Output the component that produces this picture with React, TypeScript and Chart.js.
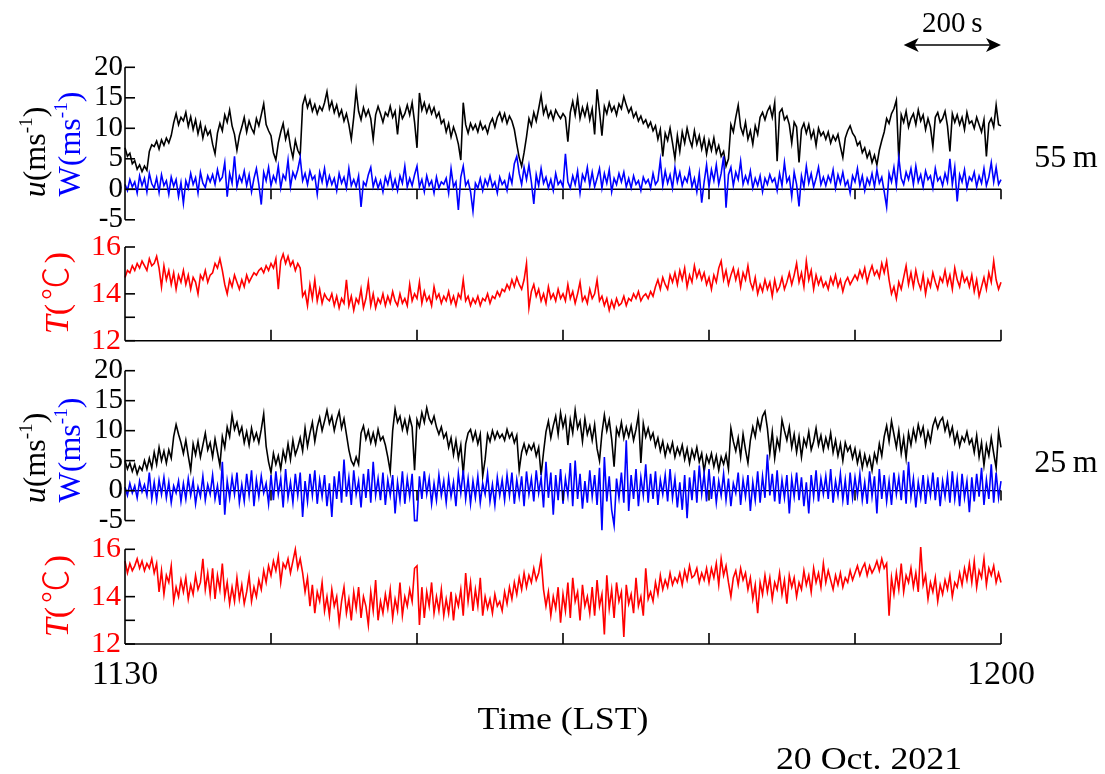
import React, { useEffect, useRef } from "react";
import { Chart, registerables } from "chart.js";

Chart.register(...registerables);

const SERIF = "'Liberation Serif', 'Times New Roman', Times, serif";

// one sample every 5 s, 11:30:00 to 12:00:00 LST
const SAMPLE_SECONDS = 5;

const timeTicks = [0, 300, 600, 900, 1200, 1500, 1800];
const timeTickLabels: Record<number, string> = { 0: "1130", 1800: "1200" };
const windTicks = [-5, 0, 5, 10, 15, 20];
const tempTicks = [12, 13, 14, 16];
const tempTickLabels = [12, 14, 16];
const scaleBarSeconds = [1600, 1800];

// 55 m level
const u55 = [
  6.8, 5.4, 5.9, 4.2, 4.7, 3.3, 4.0, 2.9, 3.8, 3.1, 6.2, 7.3,
  7.0, 7.9, 6.6, 8.1, 7.2, 8.4, 7.6, 8.8, 10.9, 12.4, 10.6, 11.8,
  11.2, 12.6, 10.3, 11.9, 9.8, 11.4, 9.1, 10.8, 8.4, 10.2, 8.9, 9.6,
  7.4, 5.8, 9.2, 10.8, 9.6, 12.2, 11.0, 13.0, 10.4, 9.0, 6.4, 8.8,
  10.2, 11.8, 9.4, 11.2, 10.0, 9.2, 11.6, 10.4, 12.2, 14.0, 10.6, 9.6,
  8.8, 6.0, 4.8, 7.6, 9.4, 10.8, 8.2, 9.6, 7.0, 5.2, 8.0, 6.4,
  5.6, 13.8, 15.2, 13.4, 14.6, 12.8, 13.9, 12.4, 13.6, 12.9, 14.2, 16.0,
  13.2, 14.4, 12.6, 13.8, 12.0, 13.0, 11.2, 12.4, 10.6, 8.2, 11.8, 16.2,
  12.8, 11.4, 13.4, 12.0, 13.0, 11.6, 8.2, 12.2, 13.6, 12.4, 11.0, 12.6,
  12.0, 13.6, 11.8, 12.8, 9.0, 13.2, 11.6, 12.4, 13.8, 12.2, 14.2, 11.0,
  6.8, 15.8, 13.0, 14.2, 12.6, 13.8, 12.4, 13.4, 11.8, 12.6, 10.8, 11.4,
  9.4, 10.8, 8.6, 10.2, 9.0, 7.4, 4.8, 14.2, 10.6, 9.2, 10.8, 9.8,
  10.6, 9.4, 11.0, 9.8, 10.4, 9.2, 10.8, 11.6, 10.2, 11.8, 12.6, 11.2,
  12.4, 10.8, 12.0, 11.2, 9.8, 7.4, 5.2, 3.8, 6.0, 8.6, 11.6, 10.4,
  12.6, 11.2, 13.2, 15.4, 12.4, 13.6, 11.8, 12.8, 11.4, 13.0, 12.2, 11.6,
  12.4, 11.8, 7.8, 12.6, 14.4, 12.2, 15.0, 11.6, 13.4, 12.0, 13.8, 11.4,
  13.2, 9.0, 16.4, 12.8, 8.8, 13.6, 12.4, 14.2, 12.8, 13.6, 12.2, 14.0,
  13.2, 15.2, 13.8, 12.6, 13.4, 11.8, 12.6, 11.2, 12.0, 10.8, 11.4, 10.2,
  11.0, 9.6, 10.4, 8.2, 9.8, 5.4, 9.2, 8.0, 10.0, 7.6, 5.0, 8.8,
  6.2, 9.4, 7.6, 10.0, 8.2, 7.0, 9.6, 7.4, 8.8, 6.6, 8.4, 5.8,
  8.0, 6.4, 8.4, 6.0, 7.2, 5.4, 6.2, 3.8, 5.0, 10.6, 9.4, 11.8,
  13.8, 10.2, 9.0, 11.0, 8.2, 9.6, 7.4, 10.4, 9.0, 11.8, 12.6, 11.4,
  12.8, 13.6, 11.8, 14.2, 4.6, 12.6, 13.2, 11.4, 12.0, 10.6, 7.6, 11.0,
  10.2, 4.4, 9.8, 10.8, 9.2, 10.6, 8.4, 9.6, 7.2, 10.0, 8.8, 9.4,
  8.2, 9.4, 7.6, 8.8, 8.0, 9.0, 7.0, 5.2, 8.4, 9.6, 10.4, 9.2,
  8.6, 7.2, 7.8, 6.0, 6.8, 5.2, 6.2, 4.4, 5.6, 4.0, 6.4, 8.0,
  9.4, 11.6, 10.8, 12.4, 13.2, 14.6, 4.8, 12.2, 11.0, 12.8, 10.2, 11.6,
  12.4, 10.6, 13.0, 11.2, 12.2, 9.8, 11.6, 10.2, 7.0, 11.8, 12.6, 11.0,
  11.6, 12.8, 10.4, 6.2, 12.4, 11.0, 12.2, 10.6, 11.8, 9.8, 12.6, 10.8,
  11.2, 10.0, 11.8, 10.6, 9.4, 11.4, 5.4, 10.8, 11.6, 10.2, 13.8, 10.6,
  10.4,
];

const w55 = [
  0.8, -0.2, 1.6, 0.4, 1.2, -0.6, 2.2, 0.6, 1.8, -0.4, 2.6, 0.9,
  0.2, 1.9, -0.5, 2.4, 0.6, 1.4, -0.8, 2.0, 0.5, 1.6, -1.2, 1.1,
  -2.3, 1.4, 0.2, 2.6, 0.8, 1.9, -0.6, 2.8, 1.0, 0.3, 2.2, 1.2,
  2.4, 0.8, 3.2, 1.4, 2.0, 4.4, -1.2, 2.6, 1.0, 5.4, 0.4, 2.2,
  1.2, 3.0, 0.6, 2.4, -0.4, 1.8, 3.4, 0.8, -2.5, 2.8, 1.4, 3.6,
  0.6, 2.2, 1.2, 3.8, 0.2, 2.4, 1.6, 4.8, 0.4, 2.8, 1.8, 3.2,
  5.2, 1.4, 2.6, 0.8, 3.0, 1.6, 2.2, -0.8, 2.8, 1.2, 3.4, 0.6,
  2.2, 0.8, 1.8, -0.2, 2.6, 1.0, 2.0, 0.2, 3.4, 0.6, 1.6, 0.4,
  2.2, -2.9, 1.2, 0.6, 2.4, 3.6, 0.4, 1.8, 0.2, 1.4, -0.4, 2.0,
  0.8, 2.6, 0.2, 1.6, -0.2, 2.2, 1.0, 3.8, 0.4, 1.8, 0.6, 2.4,
  3.8, 0.4, 1.6, -0.4, 2.2, 0.6, 1.4, -0.6, 2.0, 0.2, 1.2, 0.8,
  1.8, -0.6, 3.4, 0.4, 1.2, -3.4, 2.0, 3.8, 0.6, 1.4, -0.4, -3.6,
  1.0, 0.2, 1.8, -0.2, 1.6, 0.6, 2.2, 0.4, 1.2, -0.6, 2.0, 0.8,
  1.4, -0.2, 2.4, 1.0, 4.2, 5.4, 2.6, 0.8, 3.6, 1.6, 4.0, 1.2,
  -2.4, 2.4, 0.6, 3.4, 1.0, 2.0, 0.2, 1.6, -0.2, 2.6, 0.8, 1.4,
  0.4, 5.8, 1.2, 0.2, 2.2, 0.8, 3.0, -0.6, 2.4, 1.4, 3.6, 0.6,
  2.8, 0.4, 1.8, 3.4, 0.2, 2.6, 1.0, 3.2, -0.4, 1.8, 0.8, 2.6,
  1.2, 2.8, 0.4, 1.8, 0.2, 2.2, 0.8, 1.4, -0.2, 2.0, 1.0, 1.6,
  0.2, 2.6, 0.8, 1.4, 4.8, 0.6, 3.0, 1.0, 2.4, 0.2, 3.6, 1.2,
  2.8, 0.6, 2.0, 1.2, 3.2, 0.4, 1.8, -0.4, 2.6, -2.2, 1.2, 4.0,
  0.4, 3.2, 1.4, 4.0, 0.8, 2.6, 5.4, -3.0, 2.4, 3.6, 0.6, 2.8,
  1.6, 4.6, 0.8, 2.2, 1.0, 3.0, 0.2, 1.8, 0.6, 2.2, -0.4, 1.8,
  0.8, 2.4, 1.2, 1.8, -0.2, 2.6, 0.6, 4.4, 1.2, 2.0, -1.2, 2.8,
  0.8, -2.8, 2.2, 0.4, 3.8, 1.0, 2.6, 0.4, 1.8, 3.6, 0.8, 2.0,
  0.6, 2.2, 1.2, 3.2, 0.2, 2.4, 1.0, 2.8, 0.6, 1.4, -0.6, 2.2,
  1.2, 3.4, 0.6, 2.2, -0.2, 1.8, 0.8, 2.6, 0.4, 3.2, 1.0, 2.0,
  -0.4, -2.9, 2.6, 1.2, 3.6, 0.6, 5.2, 1.8, 0.8, 2.8, 1.6, 3.4,
  0.8, 3.8, 1.2, 2.4, 0.4, 3.0, 1.6, 2.2, 0.2, 3.4, 1.4, 2.0,
  0.6, 2.6, 1.2, 5.0, 0.8, 3.6, -2.0, 2.4, 1.2, 3.2, 0.2, 2.0,
  1.4, 2.8, 0.4, 2.2, 1.0, 3.4, 0.6, 2.0, 4.4, 1.2, 3.6, 0.8,
  1.6,
];

const t55 = [
  14.7, 15.0, 14.9, 15.2, 15.0, 15.3, 15.1, 15.4, 15.2, 15.0, 15.5, 15.2,
  15.3, 15.6, 15.1, 14.3, 15.2, 14.6, 15.0, 14.4, 14.9, 14.2, 14.8, 14.5,
  15.0, 14.4, 14.8, 14.2, 14.7, 14.5, 14.0, 14.8, 14.6, 15.0, 14.5, 14.8,
  14.9, 15.3, 15.1, 15.5, 15.0, 14.4, 14.0, 14.6, 14.3, 14.8, 14.5, 14.2,
  14.6, 14.3, 14.8, 14.5, 14.7, 14.9, 14.8, 15.0, 15.1, 14.9, 15.2, 15.0,
  15.3, 15.1, 15.5, 14.2, 15.4, 15.7, 15.3, 15.6, 15.2, 15.4, 15.0, 15.3,
  15.1, 13.9, 14.1, 13.5, 14.4, 13.8, 14.6, 13.7, 14.2, 13.6, 14.0, 13.8,
  13.7, 14.0, 13.5, 13.9, 13.4, 13.8, 13.6, 14.6, 13.5, 13.9, 13.3, 13.8,
  13.6, 14.2, 13.4, 13.8, 14.5, 13.5, 14.0, 13.4, 13.8, 13.6, 14.0, 13.5,
  13.9, 13.6, 14.1, 13.7, 13.5, 14.0, 13.6, 13.8, 13.5, 14.4, 13.7, 14.0,
  13.8, 14.5, 13.6, 14.1, 13.7, 13.9, 13.5, 14.3, 13.8, 14.0, 13.6, 13.9,
  13.7, 14.1, 13.6, 13.9, 13.5, 14.0, 13.8, 14.6, 13.7, 13.9, 13.5, 13.8,
  13.6, 13.9, 13.5, 13.8, 13.7, 14.0, 13.6, 13.9, 13.8, 14.1, 13.9, 14.2,
  14.1, 14.4, 14.2, 14.6, 14.3, 14.7, 14.4, 14.2, 14.6, 15.3, 13.4, 14.1,
  14.4, 13.9, 14.2, 13.7, 14.0, 13.6, 14.3, 13.8, 14.0, 13.7, 14.2, 13.8,
  14.0, 13.7, 14.4, 13.8, 14.1, 13.6, 14.0, 14.5, 13.7, 13.9, 13.6, 14.2,
  13.8, 14.0, 14.6, 13.7, 13.9, 13.5, 13.8, 13.3, 13.7, 13.4, 13.8, 13.5,
  13.6, 13.9, 13.5, 13.8, 13.7, 14.0, 13.8, 14.1, 13.7, 13.9, 14.0, 13.8,
  14.1, 13.9, 14.3, 14.6, 14.2, 14.7, 14.4, 14.2, 14.8, 14.5, 14.9, 14.4,
  15.0, 14.6, 15.1, 14.3, 14.8, 14.5, 15.2, 14.7, 15.0, 14.6, 14.9, 14.4,
  14.7, 14.2, 14.8, 14.5, 15.1, 15.4, 14.6, 15.0, 14.4, 14.8, 15.1, 14.6,
  15.0, 14.3, 14.9, 14.6, 15.2, 14.5, 14.2, 14.7, 14.0, 14.4, 14.1, 14.6,
  14.2, 14.5, 13.9, 14.6, 14.1, 14.3, 14.7, 14.2, 14.5, 14.9, 14.4, 14.8,
  15.3, 14.5, 14.9, 14.3, 15.4, 14.6, 15.0, 14.2, 14.8, 14.4, 14.7, 14.3,
  14.5, 14.2, 14.7, 14.4, 14.8, 14.3, 14.6, 14.1, 14.5, 14.7, 14.4, 14.6,
  14.8, 14.6, 15.0, 14.7, 15.1, 14.5, 14.9, 15.2, 14.8, 15.0, 14.7, 15.3,
  14.9, 15.4, 14.6, 14.0, 14.3, 13.8, 14.5, 14.2, 14.7, 15.2, 14.4, 14.9,
  14.3, 15.0, 14.5, 14.2, 14.8, 14.0, 14.6, 14.3, 14.9, 14.5, 14.2, 14.7,
  14.5, 15.0, 14.4, 14.8, 14.2, 15.1, 14.6, 14.3, 14.9, 14.5, 14.7, 14.3,
  14.8, 14.1, 14.6, 13.9, 14.3, 14.7, 14.2, 14.9, 14.5, 15.4, 14.6, 14.2,
  14.5,
];

// 25 m level
const u25 = [
  5.0, 3.6, 4.6, 3.2, 4.4, 2.8, 4.0, 3.4, 5.0, 3.6, 5.4, 3.8,
  6.4, 4.4, 7.2, 5.0, 6.6, 4.6, 6.8, 5.4, 9.0, 11.0, 9.4, 8.0,
  6.2, 8.4, 5.8, 3.4, 7.8, 6.0, 8.2, 5.6, 7.6, 9.6, 6.8, 8.0,
  5.6, 8.6, 6.4, 4.2, 9.0, 7.2, 10.6, 9.0, 12.6, 10.2, 11.4, 9.4,
  10.6, 8.0, 9.8, 7.6, 10.4, 8.4, 9.6, 8.0, 10.2, 12.8, 7.4, 4.8,
  3.0, 6.2, 4.4, 5.8, 3.6, 6.6, 5.0, 7.8, 5.2, 8.4, 6.0, 7.2,
  8.8, 6.6, 10.4, 7.4, 9.6, 11.4, 8.2, 10.6, 12.2, 10.0, 11.6, 13.4,
  11.2, 12.4, 10.0, 11.8, 13.2, 10.4, 12.0, 9.4, 6.8, 5.0, 4.2, 5.6,
  4.4, 9.6, 10.8, 8.6, 10.0, 8.0, 9.6, 7.8, 10.2, 8.4, 9.0, 7.6,
  5.6, 3.2, 10.0, 13.6, 11.4, 12.4, 10.2, 11.8, 9.8, 12.2, 10.6, 3.4,
  11.8, 10.6, 13.0, 11.4, 13.8, 12.0, 11.2, 12.4, 10.6, 9.4, 10.6, 8.8,
  9.6, 7.2, 8.8, 6.0, 8.4, 5.4, 7.6, 2.8, 7.8, 9.6, 10.2, 8.4,
  9.8, 7.8, 9.4, 2.4, 5.2, 9.4, 8.2, 10.0, 8.6, 9.8, 8.8, 9.4,
  8.4, 10.2, 8.8, 9.6, 8.0, 9.2, 3.4, 6.4, 7.8, 6.2, 7.6, 6.8,
  7.8, 5.8, 7.2, 2.6, 6.4, 9.8, 11.6, 8.8, 10.8, 12.4, 9.4, 13.0,
  10.6, 12.2, 7.6, 11.8, 9.6, 13.4, 10.4, 11.6, 8.2, 12.0, 9.4, 10.8,
  8.4, 11.0, 7.0, 5.0, 9.6, 12.6, 10.0, 11.8, 8.6, 4.0, 10.4, 9.2,
  11.4, 8.8, 10.6, 9.0, 10.8, 8.4, 10.2, 12.6, 4.6, 11.2, 9.0, 10.4,
  8.6, 9.6, 7.4, 8.8, 6.6, 8.2, 5.8, 7.6, 6.4, 8.0, 5.6, 7.2,
  6.0, 7.6, 5.2, 7.0, 4.6, 6.8, 5.4, 7.2, 4.8, 6.2, 3.2, 5.8,
  4.6, 6.2, 4.0, 5.8, 3.4, 5.6, 4.4, 6.0, 3.6, 10.4, 8.2, 6.6,
  8.8, 5.6, 9.4, 6.8, 4.6, 8.4, 10.6, 9.0, 11.8, 10.2, 12.4, 13.2,
  10.4, 6.2, 9.8, 5.4, 8.6, 7.0, 11.8, 10.0, 8.4, 10.6, 7.2, 9.4,
  6.4, 9.0, 5.6, 8.6, 7.4, 9.8, 6.8, 8.2, 10.4, 7.6, 9.2, 6.8,
  8.8, 7.2, 9.6, 6.4, 8.4, 5.8, 7.8, 5.0, 8.0, 6.6, 7.4, 5.4,
  7.0, 4.6, 6.4, 3.8, 6.0, 4.2, 5.6, 3.4, 6.2, 4.8, 7.8, 5.8,
  9.0, 10.8, 8.2, 11.6, 9.4, 7.2, 10.0, 6.2, 8.8, 5.4, 9.6, 7.6,
  10.2, 8.4, 11.0, 9.2, 10.6, 7.6, 9.8, 8.2, 10.8, 12.0, 10.4, 11.6,
  12.2, 10.0, 11.4, 9.2, 10.6, 8.0, 9.6, 7.4, 9.0, 8.2, 9.8, 7.8,
  8.6, 6.4, 9.2, 5.6, 8.0, 4.2, 7.6, 5.8, 8.8, 6.2, 3.8, 9.8,
  7.2,
];

const w25 = [
  0.6, -0.8, 1.2, -0.4, 0.8, -1.2, 1.6, -0.2, 1.0, -0.8, 3.0, -1.4,
  1.4, -1.6, 1.8, -0.6, 2.2, -1.2, 1.4, -2.0, 0.8, -0.4, 1.6, -1.8,
  1.2, -1.4, 2.0, -0.8, 1.6, -2.2, 0.6, -1.0, 2.4, -1.6, 1.0, -0.6,
  2.6, -1.4, 0.8, -2.4, 4.8, -4.0, 1.6, -1.2, 2.2, -0.6, 3.0, -2.0,
  1.0, -1.8, 2.8, -0.8, 3.4, -2.6, 1.8, -1.0, 2.4, -0.4, 1.2, -2.2,
  2.6, -1.6, 3.2, -0.6, 2.0, -2.8, 3.6, -1.2, 1.4, -2.0, 2.8, -0.8,
  3.0, -4.4, 1.6, -1.8, 2.8, -0.8, 3.4, -2.2, 1.8, -1.0, 2.6, -2.6,
  1.2, -4.4, 2.4, -1.4, 3.2, -2.0, 5.2, -1.0, 2.2, -2.4, 3.4, -0.6,
  1.6, -2.8, 2.8, -1.2, 3.6, -2.0, 4.8, -0.8, 2.0, -1.6, 3.0, -2.4,
  1.8, -0.8, 2.6, -3.8, 1.4, -1.6, 3.2, -2.2, 2.0, -1.0, 2.8, -5.0,
  -5.0, 2.4, -1.4, 3.2, -0.6, 2.0, -2.2, 1.2, -1.6, 2.6, -0.8, 1.6,
  -2.0, 2.2, -1.0, 1.4, -2.6, 2.8, -0.4, 3.4, -1.4, 2.0, -2.2, 1.6,
  -1.2, 2.4, -2.0, 1.2, -0.6, 2.8, -1.8, 1.0, -2.4, 2.2, -0.8, 1.8,
  -1.6, 2.6, -0.8, 3.0, -2.2, 1.8, -1.0, 2.4, -2.6, 3.2, -0.6, 2.0,
  -1.8, 3.4, -0.4, 2.2, -2.8, 4.8, -1.2, 3.0, -4.0, 2.6, -1.6, 3.6,
  -2.2, 2.0, -0.8, 4.6, -2.6, 5.0, -1.4, 2.8, -3.0, 1.6, -2.0, 3.4,
  -1.0, 2.6, -2.4, 3.8, -6.6, 5.6, -1.8, 2.4, -3.2, -5.8, 2.0, -1.2,
  3.0, -2.0, 8.4, -3.4, 2.6, -1.4, 3.6, -2.6, 2.2, -0.8, 4.4, -2.0,
  2.8, -1.4, 3.2, -2.4, 1.8, -0.6, 2.6, -1.8, 3.6, -1.2, 2.0, -2.8,
  1.4, -3.2, 2.6, -4.6, 2.2, -1.6, 3.4, -2.0, 4.2, -0.6, 2.8, -1.8,
  3.6, -1.4, 2.4, -2.0, 1.6, -0.8, 2.8, -1.6, 2.0, -2.6, 1.2, -0.4,
  3.0, -2.4, 1.8, -1.0, 2.6, -3.4, 1.4, -1.6, 3.2, -2.0, 2.4, -1.2,
  6.0, -0.8, 2.8, -1.8, 3.4, -2.2, 1.8, -1.2, 2.6, -3.8, 2.0, -1.0,
  3.0, -1.6, 2.2, -2.6, 1.4, -3.8, 2.6, -1.0, 3.4, -1.8, 2.0, -0.6,
  2.4, -1.4, 3.6, -2.0, 1.6, -0.8, 2.8, -1.6, 1.8, -2.4, 3.0, -1.2,
  2.2, -0.8, 2.8, -1.6, 1.4, -2.2, 3.2, -1.0, 2.4, -3.8, 3.6, -1.4,
  2.6, -1.8, 1.6, -2.4, 3.0, -0.6, 2.2, -1.6, 3.4, -2.2, 4.8, -1.0,
  2.0, -2.8, 1.4, -1.2, 2.6, -2.2, 1.8, -0.8, 3.0, -1.6, 2.2, -2.6,
  1.6, -1.0, 2.4, -2.0, 3.2, -1.4, 2.0, -2.6, 2.8, -1.2, 1.6, -3.6,
  2.2, -1.8, 2.8, -1.0, 3.8, -2.4, 1.8, -1.4, 4.4, -2.0, 3.0, -1.2,
  1.6,
];

const t25 = [
  15.5, 15.0, 15.4, 15.1, 15.3, 15.6, 15.2, 15.5, 15.1, 15.4, 15.2, 15.6,
  15.0, 15.4, 14.2, 15.1, 14.1, 14.9, 14.6, 15.3, 13.8, 14.4, 14.0, 14.7,
  14.2, 14.8, 13.9, 14.5, 14.1, 14.9, 14.3, 14.6, 15.6, 14.3, 15.0, 14.1,
  15.2, 13.9, 14.9, 14.3, 15.4, 14.0, 14.6, 13.7, 14.4, 13.8, 14.8, 13.9,
  14.5, 13.7, 14.2, 14.9, 13.8, 14.4, 14.0, 14.7, 14.3, 15.1, 14.6, 15.3,
  14.9, 15.5, 15.1, 15.7, 14.6, 15.4, 15.2, 15.6, 15.0, 15.5, 16.0, 15.2,
  15.6, 15.0, 14.2, 14.8, 13.6, 14.5, 13.3, 14.2, 13.8, 14.6, 13.4, 14.0,
  13.2, 14.3, 13.6, 14.0, 12.9, 13.8, 14.4, 13.3, 13.9, 13.0, 14.2, 13.5,
  14.4, 13.1, 14.0, 13.6, 12.8, 14.2, 13.4, 14.7, 13.0, 13.8, 13.3, 14.1,
  13.5, 14.3, 13.1, 13.9, 13.4, 14.6, 13.2, 14.0, 13.6, 14.3, 13.8, 15.2,
  15.3, 12.8, 14.4, 13.1, 14.2, 13.6, 14.6, 13.3, 14.0, 13.4, 14.3, 13.2,
  13.9, 13.3, 14.2, 13.0, 14.0, 13.6, 14.3, 13.2, 15.0, 13.8, 14.6, 13.4,
  14.3, 13.6, 14.8, 13.2, 14.0, 13.5, 13.9, 13.3, 14.1, 13.6, 13.8, 13.4,
  14.2, 13.7, 14.4, 13.9, 14.6, 14.1, 14.8, 14.3, 15.0, 14.4, 14.9, 14.6,
  15.2, 14.7, 15.0, 15.6, 14.3, 13.6, 14.2, 13.2, 14.0, 13.5, 14.4, 12.9,
  14.1, 13.4, 14.6, 13.1, 14.8, 13.8, 14.2, 13.0, 14.5, 13.6, 14.0, 13.3,
  14.4, 13.2, 14.7, 13.6, 14.1, 12.4, 14.9, 13.5, 14.3, 13.1, 14.6, 13.8,
  14.2, 12.3, 14.5, 13.7, 14.1, 13.3, 14.8, 13.6, 14.0, 13.2, 15.2, 13.9,
  14.2, 13.8, 14.6, 14.1, 14.9, 14.3, 14.7, 14.4, 15.0, 14.5, 14.8, 14.6,
  15.0, 14.5, 15.1, 14.7, 15.3, 14.8, 14.9, 15.2, 14.6, 15.0, 14.7, 15.2,
  14.6, 15.2, 14.8, 15.4, 14.5, 15.6, 14.9, 15.3, 14.6, 14.0, 14.8, 15.1,
  14.5, 15.2, 14.7, 15.0, 14.3, 14.8, 13.9, 14.5, 13.3, 14.6, 14.1, 14.9,
  14.2, 14.8, 13.9, 14.6, 14.3, 15.0, 14.1, 14.7, 13.7, 14.9, 14.4, 14.8,
  14.0, 14.6, 14.3, 15.1, 14.5, 14.9, 14.2, 15.2, 14.6, 15.0, 14.4, 15.4,
  14.6, 15.1, 14.7, 14.3, 14.9, 14.5, 15.0, 14.4, 14.8, 14.6, 15.1, 14.7,
  15.0, 15.3, 14.9, 15.2, 15.4, 14.9, 15.3, 15.0, 15.2, 15.5, 15.1, 15.6,
  15.2, 15.4, 13.2, 14.8, 14.1, 15.0, 14.3, 15.4, 14.2, 14.9, 14.6, 15.2,
  14.4, 15.0, 14.2, 16.1, 14.5, 14.9, 13.9, 14.6, 14.2, 14.8, 13.8, 14.5,
  14.1, 14.7, 14.3, 14.9, 14.0, 14.6, 14.4, 15.0, 14.5, 15.2, 14.7, 15.4,
  14.6, 15.5, 14.4, 15.1, 14.8, 15.6, 14.5, 15.2, 14.9, 15.3, 14.6, 15.0,
  14.6,
];

const BLACK = "#000000";
const BLUE = "#0000ff";
const RED = "#ff0000";

type Series = { values: number[]; color: string };

type PanelSpec = {
  top: number;
  height: number;
  padTop: number;
  padBottom: number;
  yMin: number;
  yMax: number;
  yTicks: number[];
  yLabels: number[];
  tickColor: string;
  tickFont: number;
  tickPad: number;
  series: Series[];
  zeroLine?: boolean;
  bottomAxis?: boolean;
  timeLabels?: boolean;
  scaleBar?: boolean;
};

// Axis frame, inward tick marks, zero line and the 200 s scale bar
const panelDecor = {
  id: "panelDecor",
  beforeDatasetsDraw(chart: any, _args: any, o: any) {
    if (!o.zeroLine) return;
    const { ctx, chartArea: a, scales } = chart;
    const y0 = scales.y.getPixelForValue(0);
    ctx.save();
    ctx.strokeStyle = BLACK;
    ctx.lineWidth = 1.4;
    ctx.beginPath();
    ctx.moveTo(a.left, y0);
    ctx.lineTo(a.right, y0);
    ctx.stroke();
    ctx.restore();
  },
  afterDraw(chart: any, _args: any, o: any) {
    const { ctx, chartArea: a, scales } = chart;
    const x = scales.x;
    const y = scales.y;
    const seg = (x1: number, y1: number, x2: number, y2: number) => {
      ctx.beginPath();
      ctx.moveTo(x1, y1);
      ctx.lineTo(x2, y2);
      ctx.stroke();
    };
    ctx.save();
    ctx.strokeStyle = BLACK;
    ctx.lineWidth = 1.6;
    ctx.lineCap = "butt";
    seg(a.left, a.top, a.left, a.bottom);
    (o.yTicks as number[]).forEach((v) => {
      const py = y.getPixelForValue(v);
      seg(a.left, py, a.left + 10, py);
    });
    if (o.zeroLine) {
      const y0 = y.getPixelForValue(0);
      timeTicks.slice(1).forEach((t) => {
        const px = x.getPixelForValue(t);
        seg(px, y0, px, y0 + 10);
      });
    }
    if (o.bottomAxis) {
      seg(a.left, a.bottom, a.right, a.bottom);
      timeTicks.slice(1).forEach((t) => {
        const px = x.getPixelForValue(t);
        seg(px, a.bottom, px, a.bottom - 11);
      });
    }
    if (o.scaleBar) {
      const x1 = x.getPixelForValue(scaleBarSeconds[0]);
      const x2 = x.getPixelForValue(scaleBarSeconds[1]);
      const yy = 45;
      ctx.lineWidth = 1.6;
      seg(x1 + 6, yy, x2 - 6, yy);
      ctx.fillStyle = BLACK;
      ctx.beginPath();
      ctx.moveTo(x1, yy);
      ctx.lineTo(x1 + 15, yy - 7);
      ctx.lineTo(x1 + 11, yy);
      ctx.lineTo(x1 + 15, yy + 7);
      ctx.closePath();
      ctx.fill();
      ctx.beginPath();
      ctx.moveTo(x2, yy);
      ctx.lineTo(x2 - 15, yy - 7);
      ctx.lineTo(x2 - 11, yy);
      ctx.lineTo(x2 - 15, yy + 7);
      ctx.closePath();
      ctx.fill();
      ctx.font = `29px ${SERIF}`;
      ctx.textAlign = "center";
      ctx.textBaseline = "middle";
      ctx.fillText("200\u2009s", (x1 + x2) / 2, 24);
    }
    ctx.restore();
  },
};

function buildChart(canvas: HTMLCanvasElement, p: PanelSpec) {
  const xScale: any = {
    type: "linear",
    min: 0,
    max: 1800,
    display: !!p.timeLabels,
    afterBuildTicks: (s: any) => {
      s.ticks = timeTicks.map((v) => ({ value: v }));
    },
    grid: { display: false, drawTicks: false },
    border: { display: false },
    ticks: {
      autoSkip: false,
      maxRotation: 0,
      padding: 11,
      color: BLACK,
      font: { family: SERIF, size: 34 },
      callback: (v: any) => timeTickLabels[v as number] ?? "",
    },
  };
  if (p.timeLabels) {
    xScale.afterFit = (s: any) => {
      s.height = 60;
    };
  }
  return new Chart(canvas, {
    type: "line",
    data: {
      datasets: p.series.map((s) => ({
        data: s.values.map((v, i) => ({ x: i * SAMPLE_SECONDS, y: v })),
        borderColor: s.color,
        borderWidth: 1.6,
        pointRadius: 0,
        tension: 0,
        fill: false,
        clip: false as any,
      })),
    },
    options: {
      animation: false,
      responsive: false,
      maintainAspectRatio: false,
      devicePixelRatio: 1,
      events: [],
      layout: { padding: { left: 0, right: 104, top: p.padTop, bottom: p.padBottom } },
      plugins: {
        legend: { display: false },
        tooltip: { enabled: false },
        panelDecor: {
          yTicks: p.yTicks,
          zeroLine: !!p.zeroLine,
          bottomAxis: !!p.bottomAxis,
          scaleBar: !!p.scaleBar,
        },
      } as any,
      scales: {
        x: xScale,
        y: {
          type: "linear",
          min: p.yMin,
          max: p.yMax,
          afterBuildTicks: (s: any) => {
            s.ticks = p.yTicks.map((v) => ({ value: v }));
          },
          afterFit: (s: any) => {
            s.width = 125;
          },
          grid: { display: false, drawTicks: false },
          border: { display: false },
          ticks: {
            autoSkip: false,
            padding: p.tickPad,
            color: p.tickColor,
            font: { family: SERIF, size: p.tickFont },
            callback: (v: any) => (p.yLabels.includes(v as number) ? String(v) : ""),
          },
        },
      },
    } as any,
    plugins: [panelDecor as any],
  });
}

const panels: PanelSpec[] = [
  {
    top: 0, height: 240, padTop: 67.3, padBottom: 20.2,
    yMin: -5, yMax: 20, yTicks: windTicks, yLabels: windTicks,
    tickColor: BLACK, tickFont: 29, tickPad: 2,
    series: [{ values: w55, color: BLUE }, { values: u55, color: BLACK }],
    zeroLine: true, scaleBar: true,
  },
  {
    top: 225, height: 140, padTop: 20.7, padBottom: 24.3,
    yMin: 12, yMax: 16, yTicks: tempTicks, yLabels: tempTickLabels,
    tickColor: RED, tickFont: 30, tickPad: 4,
    series: [{ values: t55, color: RED }],
    bottomAxis: true,
  },
  {
    top: 345, height: 195, padTop: 25.7, padBottom: 18,
    yMin: -5, yMax: 20, yTicks: windTicks, yLabels: windTicks,
    tickColor: BLACK, tickFont: 29, tickPad: 2,
    series: [{ values: w25, color: BLUE }, { values: u25, color: BLACK }],
    zeroLine: true,
  },
  {
    top: 525, height: 249, padTop: 24.3, padBottom: 70,
    yMin: 12, yMax: 16, yTicks: tempTicks, yLabels: tempTickLabels,
    tickColor: RED, tickFont: 30, tickPad: 4,
    series: [{ values: t25, color: RED }],
    bottomAxis: true, timeLabels: true,
  },
];

function Panel({ spec }: { spec: PanelSpec }) {
  const ref = useRef<HTMLCanvasElement | null>(null);
  useEffect(() => {
    if (!ref.current) return;
    const chart = buildChart(ref.current, spec);
    return () => chart.destroy();
  }, [spec]);
  return (
    <canvas
      ref={ref}
      width={1105}
      height={spec.height}
      style={{ position: "absolute", left: 0, top: spec.top, width: 1105, height: spec.height }}
    />
  );
}

function VLabel({ cx, cy, color, size, children }: { cx: number; cy: number; color: string; size: number; children: React.ReactNode }) {
  return (
    <div
      style={{
        position: "absolute",
        left: cx,
        top: cy,
        transform: "translate(-50%, -50%) rotate(-90deg)",
        color,
        fontFamily: SERIF,
        fontSize: size,
        lineHeight: 1,
        whiteSpace: "nowrap",
      }}
    >
      {children}
    </div>
  );
}

function Text({ cx, cy, size, children, stretch = 1 }: { cx: number; cy: number; size: number; children: React.ReactNode; stretch?: number }) {
  return (
    <div
      style={{
        position: "absolute",
        left: cx,
        top: cy,
        transform: `translate(-50%, -50%) scaleX(${stretch})`,
        color: BLACK,
        fontFamily: SERIF,
        fontSize: size,
        lineHeight: 1,
        whiteSpace: "nowrap",
      }}
    >
      {children}
    </div>
  );
}

const sup = { fontSize: "0.6em", verticalAlign: "0.7em", lineHeight: 0 } as React.CSSProperties;
const degC = { fontFamily: "'Noto Sans CJK JP', 'Noto Sans CJK SC', sans-serif", fontWeight: 300, margin: "0 0.1em" } as React.CSSProperties;

function WindTitles({ cy }: { cy: number }) {
  return (
    <>
      <VLabel cx={34} cy={cy + 8} color={BLACK} size={32}>
        <i>u</i>(ms<span style={sup}>-1</span>)
      </VLabel>
      <VLabel cx={69} cy={cy} color={BLUE} size={32}>
        W(ms<span style={sup}>-1</span>)
      </VLabel>
    </>
  );
}

export default function App() {
  return (
    <div style={{ position: "absolute", left: 0, top: 0, width: 1105, height: 774, background: "#ffffff", overflow: "hidden" }}>
      {panels.map((p, i) => (
        <Panel key={i} spec={p} />
      ))}
      <WindTitles cy={144} />
      <WindTitles cy={450} />
      <VLabel cx={55} cy={293} color={RED} size={34}>
        <i>T</i>(<span style={degC}>℃</span>)
      </VLabel>
      <VLabel cx={55} cy={596} color={RED} size={34}>
        <i>T</i>(<span style={degC}>℃</span>)
      </VLabel>
      <Text cx={1066} cy={156} size={32}>55&thinsp;m</Text>
      <Text cx={1066} cy={461} size={32}>25&thinsp;m</Text>
      <Text cx={563} cy={718} size={32} stretch={1.12}>Time (LST)</Text>
      <Text cx={869} cy={758} size={32} stretch={1.12}>20 Oct. 2021</Text>
    </div>
  );
}
